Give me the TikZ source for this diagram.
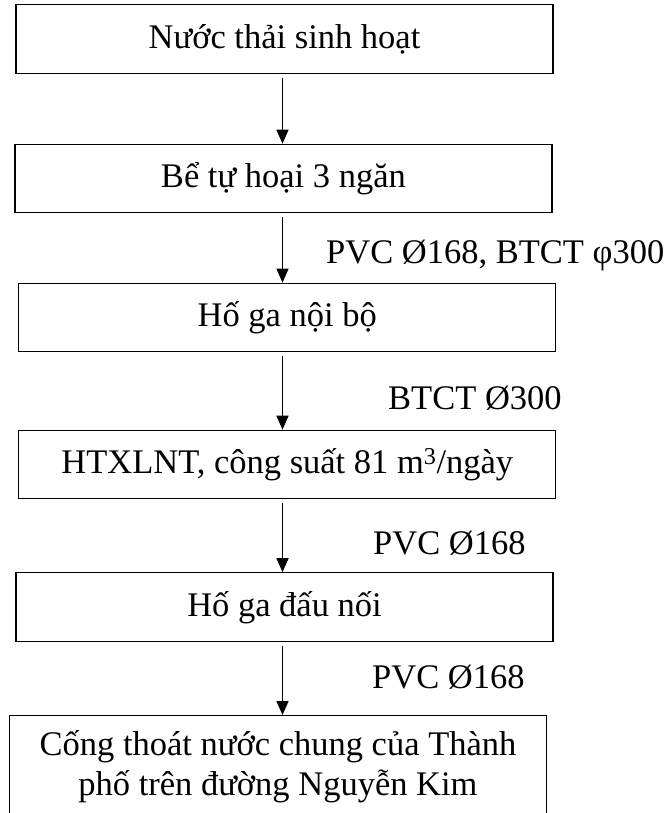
\documentclass[tikz,border=0pt]{standalone}
\usepackage{fontspec}
\setmainfont{Liberation Serif}
\usetikzlibrary{arrows.meta}

\begin{document}
\begin{tikzpicture}[x=1pt, y=-1pt,
  txt/.style={font=\fontsize{34.5}{40}\selectfont},
  stepbox/.style={txt, draw, line width=1.2pt, rectangle, inner sep=0pt,
    minimum width=537pt, minimum height=68.5pt,
    text height=22.8pt, text depth=4pt},
  pipe/.style={txt, anchor=west, inner sep=0pt, text height=22.8pt, text depth=0pt},
  flow/.style={draw, line width=1.5pt, -{Triangle[length=14pt, width=12pt]},
    shorten <=4pt}]
  \useasboundingbox (0,0) rectangle (665,813);
  \clip (0,0) rectangle (665,813);

  % treatment chain
  \node[stepbox] (b1) at (284.5,39)    {Nước thải sinh hoạt};
  \node[stepbox] (b2) at (283.4,178.5) {Bể tự hoại 3 ngăn};
  \node[stepbox] (b3) at (287.3,317.5) {Hố ga nội bộ};
  \node[stepbox] (b4) at (287.3,464.5) {HTXLNT, công suất 81 m\textsuperscript{3}/ngày};
  \node[stepbox] (b5) at (284.5,607)   {Hố ga đấu nối};
  % outlet box runs past the bottom edge
  \node[stepbox, anchor=north, minimum height=0pt, text height=40pt, text depth=90pt]
    (b6) at (278,715)
    {\begin{tabular}[t]{@{}c@{}}Cống thoát nước chung của Thành\\ phố trên đường Nguyễn Kim\end{tabular}};

  % common axis of the arrows
  \coordinate (ax) at (282.5,0);

  \draw[flow] (b1.south -| ax) -- (b2.north -| ax);
  \draw[flow] (b2.south -| ax) -- (b3.north -| ax);
  \draw[flow] (b3.south -| ax) -- (b4.north -| ax);
  \draw[flow] (b4.south -| ax) -- (b5.north -| ax);
  \draw[flow] (b5.south -| ax) -- (b6.north -| ax);

  % pipe labels
  \node[pipe] (p1) at (326,252) {PVC Ø168, BTCT φ300};
  \node[pipe] (p2) at (388,398) {BTCT Ø300};
  \node[pipe] (p3) at (373,543) {PVC Ø168};
  \node[pipe] (p4) at (372,677) {PVC Ø168};
\end{tikzpicture}
\end{document}
